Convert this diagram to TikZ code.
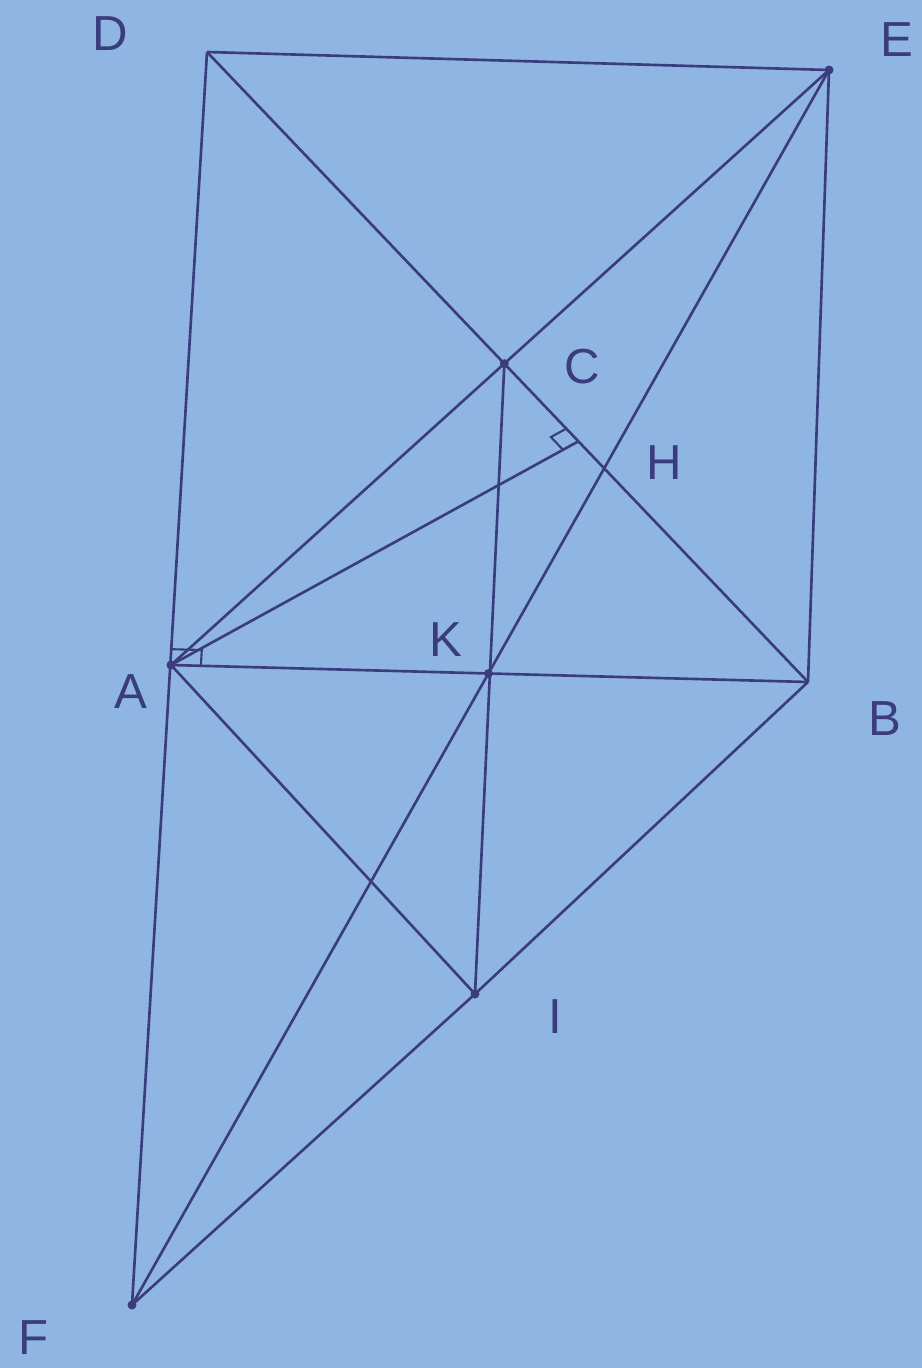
\documentclass[tikz,border=0pt]{standalone}
\usepackage{fontspec}
\setmainfont{Liberation Sans}
\usetikzlibrary{calc}
\definecolor{mPaper}{HTML}{8FB5E3}
\definecolor{mInk}{HTML}{3A3C7E}

\begin{document}
\begin{tikzpicture}[x=0.02cm, y=-0.02cm,
      seg/.style={mInk, line width=1.5pt},
      pt/.style={circle, fill=mInk, inner sep=0pt, minimum size=1.8mm},
      lbl/.style={text=mInk, font=\fontsize{28}{28}\selectfont, inner sep=0pt}]
    \fill[mPaper] (0,0) rectangle (922,1368);
    \useasboundingbox (0,0) rectangle (922,1368);
    % points of the figure
    \coordinate (D) at (207,52);
    \coordinate (E) at (829,70);
    \coordinate (A) at (171,665);
    \coordinate (B) at (808,682);
    \coordinate (F) at (132,1305);
    \coordinate (I) at (475,994);
    \coordinate (C) at (intersection of A--E and D--B);
    \coordinate (K) at (intersection of E--F and A--B);
    \coordinate (H) at ($(D)!0.618!(B)$);
    \foreach \a/\b in {D/E, E/B, D/F, A/B, D/B, A/E, A/H, C/I,
                       E/F, A/I, I/B, I/F}
      \draw[seg] (\a) -- (\b);
    % right angles
    \draw[seg, line width=1.2pt] ($(A)!17pt!(B)$) -- ($(A)!17pt!(B) + (A)!9pt!(D) - (A)$)
      -- ($(A)!9pt!(D)$);
    \draw[seg, line width=1.2pt] ($(H)!10pt!(A)$) -- ($(H)!10pt!(A) + (H)!10pt!(D) - (H)$)
      -- ($(H)!10pt!(D)$);
    \foreach \p in {C, K, I, E, F, A}
      \node[pt] (d\p) at (\p) {};
    % labels
    \node[lbl] (lD) at (110,34) {D};
    \node[lbl] (lE) at (897,40) {E};
    \node[lbl] (lC) at (582,367) {C};
    \node[lbl] (lH) at (664,463) {H};
    \node[lbl] (lK) at (446,640) {K};
    \node[lbl] (lA) at (131,692) {A};
    \node[lbl] (lB) at (885,719) {B};
    \node[lbl] (lI) at (555,1017) {I};
    \node[lbl] (lF) at (34,1338) {F};
  \end{tikzpicture}
\end{document}
